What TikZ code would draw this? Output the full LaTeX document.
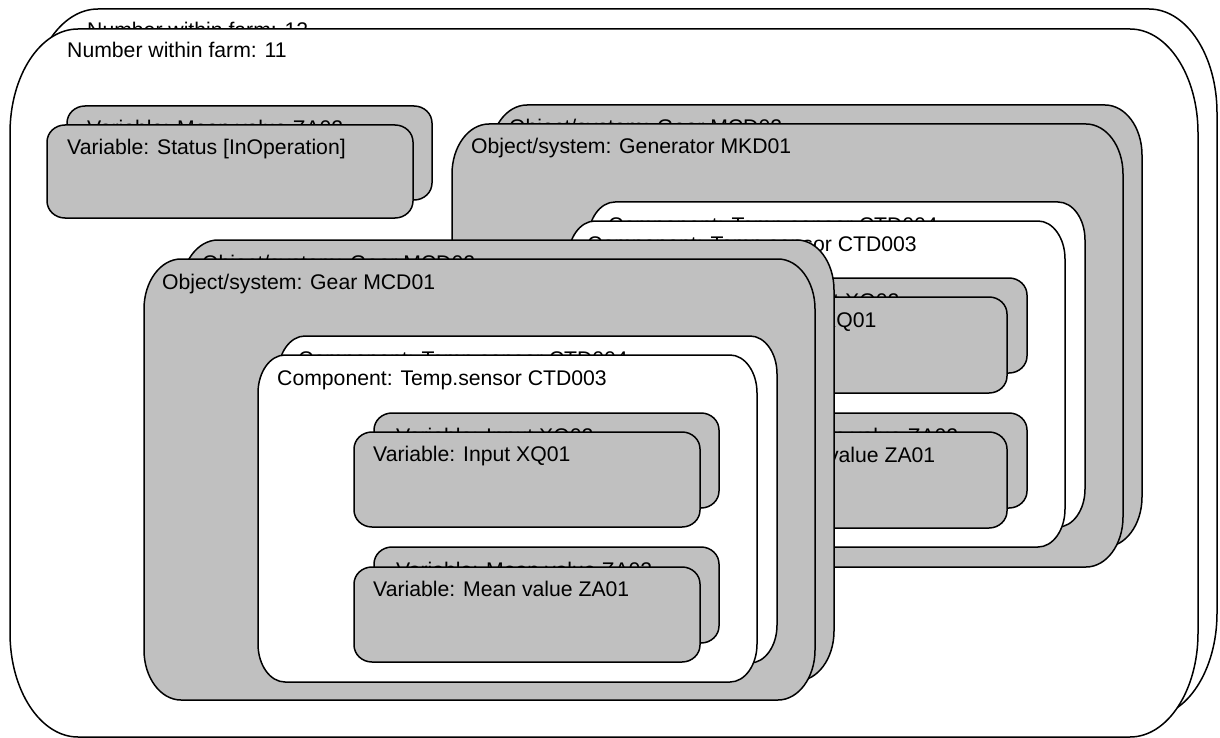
\documentclass[tikz,border=0pt]{standalone}
\usepackage{fontspec}
\setmainfont{Liberation Sans}
\definecolor{boxgray}{RGB}{192,192,192}
\newcommand{\rbx}[7]{% #1 style, #2 l, #3 t, #4 r, #5 b, #6 rx, #7 ry
  \path[#1] ({#2+#6},#3) -- ({#4-#6},#3)
    .. controls ({#4-0.4477*#6},#3) and (#4,{#3+0.4477*#7}) .. (#4,{#3+#7})
    -- (#4,{#5-#7})
    .. controls (#4,{#5-0.4477*#7}) and ({#4-0.4477*#6},#5) .. ({#4-#6},#5)
    -- ({#2+#6},#5)
    .. controls ({#2+0.4477*#6},#5) and (#2,{#5-0.4477*#7}) .. (#2,{#5-#7})
    -- (#2,{#3+#7})
    .. controls (#2,{#3+0.4477*#7}) and ({#2+0.4477*#6},#3) .. ({#2+#6},#3)
    -- cycle;}
\begin{document}
\begin{tikzpicture}[x=1pt,y=-1pt,
  graybox/.style={draw=black,line width=1.5pt,fill=boxgray,line join=round},
  whitebox/.style={draw=black,line width=1.5pt,fill=white,line join=round},
  lbl/.style={anchor=base west,inner sep=0pt,font=\fontsize{21.2}{25}\selectfont}]
\useasboundingbox (0,0) rectangle (1220,738);
% outer frames
\rbx{whitebox}{30}{9}{1217}{717}{68}{104}
\node[lbl] (farmB) at (87,38) {Number within farm: 12};
\rbx{whitebox}{10}{29}{1198}{737}{68}{104}
\node[lbl] (farmF) at (67,58) {Number within farm: 11};
% status variable
\rbx{graybox}{67}{106}{432}{200}{18}{17}
\node[lbl] (statB) at (87,136) {Variable: Mean value ZA02};
\rbx{graybox}{47}{125}{413}{218}{18}{17}
\node[lbl] (statF) at (67,155) {Variable: Status [InOperation]};
% generator object
\rbx{graybox}{490}{105}{1142}{547}{37}{50}
\node[lbl] (genB) at (509,135) {Object/system: Gear MCD02};
\rbx{graybox}{452}{124}{1123}{567}{37}{50}
\node[lbl] (genF) at (471,154) {Object/system: Generator MKD01};
\rbx{whitebox}{588}{202}{1085}{527}{27}{38}
\node[lbl] (gcompB) at (608,232) {Component: Temp.sensor CTD004};
\rbx{whitebox}{568}{221}{1065}{547}{27}{38}
\node[lbl] (gcompF) at (587,251) {Component: Temp.sensor CTD003};
\rbx{graybox}{682}{278}{1027}{373}{18}{17}
\node[lbl] (gv1B) at (702,308) {Variable: Input XQ02};
\rbx{graybox}{660}{297}{1007}{393}{18}{17}
\node[lbl] (gv1F) at (679,327) {Variable: Input XQ01};
\rbx{graybox}{682}{413}{1027}{508}{18}{17}
\node[lbl] (gv2B) at (702,443) {Variable: Mean value ZA02};
\rbx{graybox}{660}{432}{1007}{528}{18}{17}
\node[lbl] (gv2F) at (679,462) {Variable: Mean value ZA01};
% gear object
\rbx{graybox}{181}{240}{834}{681}{37}{50}
\node[lbl] (gearB) at (202,270) {Object/system: Gear MCD02};
\rbx{graybox}{144}{259}{815}{700}{37}{50}
\node[lbl] (gearF) at (162,289) {Object/system: Gear MCD01};
\rbx{whitebox}{278}{336}{777}{663}{27}{38}
\node[lbl] (rcompB) at (298,366) {Component: Temp.sensor CTD004};
\rbx{whitebox}{258}{355}{757}{682}{27}{38}
\node[lbl] (rcompF) at (277,385) {Component: Temp.sensor CTD003};
\rbx{graybox}{374}{413}{719}{508}{18}{17}
\node[lbl] (rv1B) at (396,443) {Variable: Input XQ02};
\rbx{graybox}{354}{432}{700}{527}{18}{17}
\node[lbl] (rv1F) at (373,461) {Variable: Input XQ01};
\rbx{graybox}{374}{547}{719}{643}{18}{17}
\node[lbl] (rv2B) at (396,577) {Variable: Mean value ZA02};
\rbx{graybox}{354}{567}{700}{662}{18}{17}
\node[lbl] (rv2F) at (373,596) {Variable: Mean value ZA01};
\end{tikzpicture}
\end{document}
